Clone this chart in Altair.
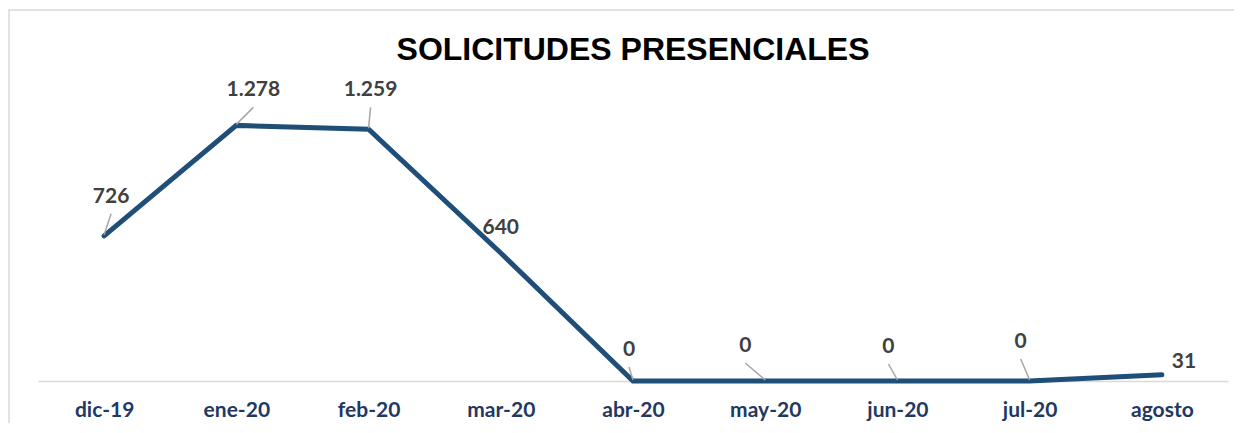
import altair as alt
import pandas as pd

months = ["dic-19", "ene-20", "feb-20", "mar-20", "abr-20", "may-20", "jun-20", "jul-20", "agosto"]
values = [726, 1278, 1259, 640, 0, 0, 0, 0, 31]
labels = ["726", "1.278", "1.259", "640", "0", "0", "0", "0", "31"]
# label offsets from the point, in pixels (as placed in the original)
label_dx = [7, 17, 2, 0, -4, -20, -9, -9, 22]
label_dy = [-39, -35, -39, -25, -31, -35, -34, -39, -13]
has_leader = [True, True, True, False, True, True, True, True, False]

W, H = 1190, 280
X_DOM = [-0.5, 8.5]
Y_DOM = [0, 1400]
px_x = W / (X_DOM[1] - X_DOM[0])
px_y = H / (Y_DOM[1] - Y_DOM[0])

df = pd.DataFrame({
    "i": list(range(len(months))),
    "mes": months,
    "v": values,
    "lab": labels,
})
df["lx"] = df["i"] + pd.Series(label_dx) / px_x
df["ly"] = df["v"] - pd.Series(label_dy) / px_y
df["leader_top"] = df["ly"] - 17 / px_y
df["leader_bot"] = df["v"] + 1 / px_y
df["leader"] = has_leader

label_expr = "[" + ",".join(f"'{m}'" for m in months) + "][datum.value]"

xs = alt.Scale(domain=X_DOM, nice=False, zero=False)
ys = alt.Scale(domain=Y_DOM, nice=False)

base = alt.Chart(df)

line = base.mark_line(color="#1F4E79", strokeWidth=5, strokeCap="round", strokeJoin="miter").encode(
    x=alt.X("i:Q", scale=xs, axis=alt.Axis(
        values=list(range(len(months))), labelExpr=label_expr, title=None,
        grid=False, ticks=False, domainColor="#D9D9D9", domainWidth=1.5,
        labelFont="Lato", labelFontSize=21, labelFontWeight="bold", labelColor="#1F3864",
        labelPadding=29, labelBaseline="middle")),
    y=alt.Y("v:Q", scale=ys, axis=None),
)

leaders = base.transform_filter("datum.leader").mark_rule(color="#A6A6A6", strokeWidth=1.5).encode(
    x=alt.X("lx:Q", scale=xs),
    y=alt.Y("leader_top:Q", scale=ys),
    x2="i:Q",
    y2="leader_bot:Q",
)

texts = base.mark_text(font="Lato", fontSize=21, fontWeight="bold", color="#404040", baseline="middle").encode(
    x=alt.X("lx:Q", scale=xs),
    y=alt.Y("ly:Q", scale=ys),
    text="lab:N",
)

title = alt.Chart(pd.DataFrame({"t": ["SOLICITUDES PRESENCIALES"]})).mark_text(
    font="Liberation Sans", fontSize=32, fontWeight="bold", color="#000000", baseline="middle", align="center"
).encode(x=alt.value(W / 2), y=alt.value(-51), text="t:N")

border = alt.Chart(pd.DataFrame({"a": [0]})).mark_rect(fill=None, stroke="#D9D9D9", strokeWidth=1.5).encode(
    x=alt.value(-29), x2=alt.value(1240), y=alt.value(-91), y2=alt.value(360)
)

chart = alt.layer(border, title, line, leaders, texts).properties(
    width=W, height=H,
    autosize=alt.AutoSizeParams(type="none"),
    padding={"left": 30, "top": 93, "right": 6, "bottom": 42},
    background="white",
).configure_view(strokeWidth=0, stroke="transparent")

chart.save("out.html", embed_options={"renderer": "svg", "actions": False})
